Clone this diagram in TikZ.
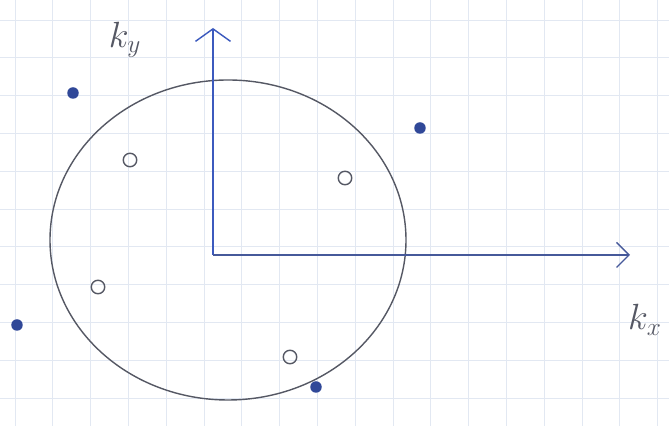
\documentclass[tikz,border=0pt]{standalone}
\usepackage{amsmath}
\usepackage{amsfonts, amssymb}
\usepackage{xcolor}
\usepackage{tikz}
\usetikzlibrary{arrows.meta, shapes.geometric, positioning, calc}

\definecolor{paper}{RGB}{226,232,242}
\definecolor{pen}{RGB}{60,90,190}
\definecolor{pencil}{RGB}{85,88,100}

\tikzset{
  hole/.style={circle, draw=pencil, thick, inner sep=0pt, minimum width=0.22cm, minimum height=0.27cm},
  electron/.style={circle, fill=pen!80!black, inner sep=0pt, minimum size=0.23cm},
  klabel/.style={pencil, font=\huge}
}

\begin{document}
\begin{tikzpicture}[>={Straight Barb[length=2.5mm, width=7mm]}]
      \useasboundingbox (0,0) rectangle (13.38,8.52);
      % Squared paper
      \fill[white] (0,0) rectangle (13.38,8.52);
      \begin{scope}
        \clip (0,0) rectangle (13.38,8.52);
        \draw[paper, thin, xshift=0.3cm, yshift=0.56cm] (-1,-1) grid[step=0.756] (14,9);
      \end{scope}

      % Fermi surface
      \draw[pencil, thick] (4.56,3.72) ellipse (3.56 and 3.2);

      % Axes
      \coordinate (origin) at (4.26,3.42);
      \coordinate (kyend) at (4.26,7.96);
      \coordinate (kxend) at (12.6,3.42);
      \draw[->, pen, thick] (origin) -- (kyend);
      \draw[-{Straight Barb[length=2.5mm, width=5mm]}, pen!60!pencil, thick] (origin) -- (kxend);
      \node[klabel] (ky) at (2.5,7.72) {$k_y$};
      \node[klabel] (kx) at (12.9,2.12) {$k_x$};

      % Holes inside
      \node[hole] (h1) at (2.6,5.32) {};
      \node[hole] (h2) at (6.9,4.96) {};
      \node[hole] (h3) at (1.96,2.78) {};
      \node[hole] (h4) at (5.8,1.38) {};

      % Electrons outside
      \node[electron] (e1) at (1.46,6.66) {};
      \node[electron] (e2) at (8.4,5.96) {};
      \node[electron] (e3) at (0.34,2.02) {};
      \node[electron] (e4) at (6.32,0.78) {};
\end{tikzpicture}
\end{document}
